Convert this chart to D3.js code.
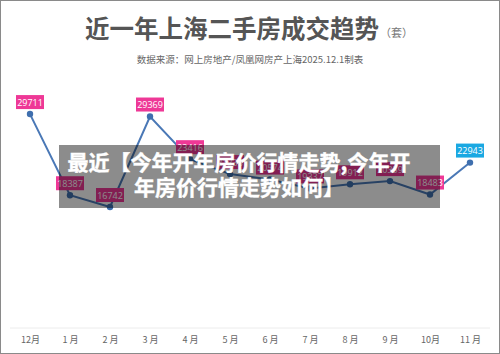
<!DOCTYPE html>
<html>
<head>
<meta charset="utf-8">
<script src="https://cdn.jsdelivr.net/npm/d3@7"></script>
<style>
  html, body { margin: 0; padding: 0; background: #fff; }
  svg { display: block; font-family: "Noto Sans CJK SC", "Noto Sans", sans-serif; }
</style>
</head>
<body>
<div id="plot"></div>
<script>
let months = ['12月', '1 月', '2 月', '3 月', '4 月', '5 月', '6 月', '7 月', '8 月', '9 月', '10月', '11 月'];
let deals = [29711, 18387, 16742, 29369, 23416, 21338, 20574, 19337, 19912, 20359, 18483, 22943];

let titleText = '近一年上海二手房成交趋势';
let unitText = '（套）';
let sourceText = '数据来源：网上房地产/凤凰网房产上海2025.12.1制表';
let overlayLines = ['最近【今年开年房价行情走势,今年开', '年房价行情走势如何】'];

let svgWidth = 500;
let svgHeight = 354;

let $svg = d3.select('#plot')
    .append('svg')
    .attr('width', svgWidth)
    .attr('height', svgHeight);

$svg.append('rect')
    .attr('x', 0.5).attr('y', 0.5)
    .attr('width', svgWidth - 1).attr('height', svgHeight - 1)
    .attr('fill', '#fff')
    .attr('stroke', '#8a8a8a');

// Title
$svg.append('text')
    .attr('x', 85)
    .attr('y', 38)
    .attr('fill', '#555')
    .style('font-size', '24.5px')
    .style('font-weight', 700)
    .text(titleText);

$svg.append('text')
    .attr('x', 380)
    .attr('y', 37)
    .attr('fill', '#777')
    .style('font-size', '11px')
    .text(unitText);

$svg.append('text')
    .attr('x', 250)
    .attr('y', 63)
    .attr('text-anchor', 'middle')
    .attr('fill', '#666')
    .style('font-size', '9.5px')
    .text(sourceText);

// Scales
let xScale = d3.scalePoint()
    .domain(months)
    .range([30, 470]);

let yScale = d3.scaleLinear()
    .domain([0, 30000])
    .range([327, 112]);

// x axis
let bottomAxis = d3.axisBottom(xScale).tickSize(0).tickPadding(9);
let $xAxis = $svg.append('g')
    .attr('transform', `translate(0, ${yScale(0) + 1})`)
    .call(bottomAxis);
$xAxis.select('.domain').remove();
$xAxis.append('line')
    .attr('x1', 10).attr('x2', 490)
    .attr('stroke', '#ececec');
$xAxis.selectAll('.tick text')
    .attr('fill', '#666')
    .style('font-size', '9px')
    .style('font-family', '"Noto Sans CJK SC", sans-serif');

// Line and points
let line = d3.line()
    .x((d, i) => xScale(months[i]))
    .y(d => yScale(d));

$svg.append('path')
    .datum(deals)
    .attr('d', line)
    .attr('fill', 'none')
    .attr('stroke', '#4a78b6')
    .attr('stroke-width', 2);

$svg.selectAll('circle.pt')
    .data(deals)
    .enter()
    .append('circle')
    .attr('class', 'pt')
    .attr('cx', (d, i) => xScale(months[i]))
    .attr('cy', d => yScale(d))
    .attr('r', 3.2)
    .attr('fill', '#3f6fae');

// Value labels
let $labels = $svg.selectAll('g.lbl')
    .data(deals)
    .enter()
    .append('g')
    .attr('class', 'lbl')
    .attr('transform', (d, i) => `translate(${xScale(months[i])}, ${yScale(d) - 5})`);

$labels.append('rect')
    .attr('x', -14)
    .attr('y', -14)
    .attr('width', 28)
    .attr('height', 14)
    .attr('fill', (d, i) => i === deals.length - 1 ? '#1aa8e2' : '#ee3896');

$labels.append('text')
    .attr('text-anchor', 'middle')
    .attr('y', -3.5)
    .attr('fill', '#fff')
    .style('font-size', '9px')
    .style('font-family', '"Open Sans", "Noto Sans", sans-serif')
    .text(d => d);

// Overlay banner
$svg.append('rect')
    .attr('x', 59)
    .attr('y', 145)
    .attr('width', 381)
    .attr('height', 63)
    .attr('fill', 'rgba(0,0,0,0.45)');

$svg.selectAll('text.banner')
    .data(overlayLines)
    .enter()
    .append('text')
    .attr('class', 'banner')
    .attr('x', 239)
    .attr('y', (d, i) => 169.5 + i * 25)
    .attr('text-anchor', 'middle')
    .attr('fill', '#fff')
    .attr('stroke', '#fff')
    .attr('stroke-width', 0.4)
    .style('font-size', '21px')
    .style('font-weight', 700)
    .text(d => d);
</script>
</body>
</html>
